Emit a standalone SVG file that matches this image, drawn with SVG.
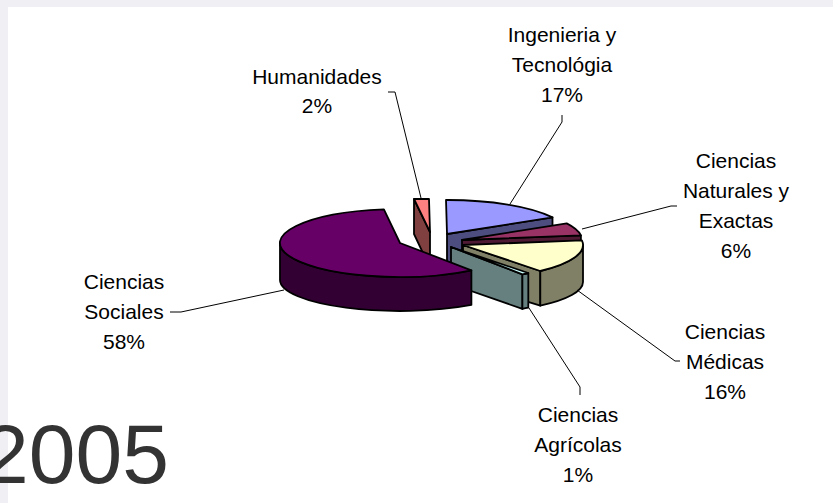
<svg xmlns="http://www.w3.org/2000/svg" width="833" height="503" viewBox="0 0 833 503">
<style>
.lbl{font-family:"Liberation Sans",Arial,sans-serif;font-size:21px;fill:#000;text-anchor:middle}
.f{stroke:#000;stroke-width:1.8;stroke-linejoin:round}
.ld{fill:none;stroke:#000;stroke-width:1}
</style>
<rect x="0" y="0" width="833" height="503" fill="#f0f0f4"/>
<rect x="8" y="7" width="825" height="496" fill="#ffffff"/>

<g id="ingenieria">
<path class="f" fill="#4d4d80" d="M447 234 L552.5 217.4 L552.5 255.8 L447 271 Z"/>
<path class="f" fill="#9999ff" d="M447 234 L446 200 A120 34 0 0 1 552.5 217.4 Z"/>
</g>
<g id="naturales">
<path class="f" fill="#4d1933" d="M462 240 L580.9 235.4 L580.9 272.9 L462 277 Z"/>
<path class="f" fill="#993366" d="M462 240 L566.7 223.4 A120 34 0 0 1 580.9 235.4 Z"/>
</g>
<g id="medicas">
<path class="f" fill="#808066" d="M463 245 L540.3 271 L540.3 305.7 L463 282 Z"/>
<path class="f" fill="#808066" d="M583 245 A120 34 0 0 1 540.3 271 L540.3 305.7 A120 31 0 0 0 583 282 Z"/>
<path class="f" fill="#ffffcc" d="M463 245 L581.9 240.4 A120 34 0 0 1 540.3 271 Z"/>
</g>
<g id="agricolas">
<path class="f" fill="#668080" d="M451 247 L522.4 274.3 L522.4 308.9 L451 284 Z"/>
<path class="f" fill="#668080" d="M528.3 273 A120 34 0 0 1 522.4 274.3 L522.4 308.9 A120 31 0 0 0 528.3 307.7 Z"/>
<path class="f" fill="#ccffff" d="M451 247 L528.3 273 A120 34 0 0 1 522.4 274.3 Z"/>
</g>
<g id="humanidades">
<path class="f" fill="#804040" d="M414 199 L430 232 L430 268 L414 234 Z"/>
<path class="f" fill="#ff8080" d="M430 232 L414 199 L429 199 Z"/>
</g>
<g id="sociales">
<path class="f" fill="#330033" d="M471.4 270.3 A120 34 0 0 1 280 243 L280 280 A120 31 0 0 0 471.4 304.9 Z"/>
<path class="f" fill="#660066" d="M400 243 L471.4 270.3 A120 34 0 1 1 383.9 209.3 Z"/>
</g>

<g id="connectors">
<path class="ld" d="M388 92 H395 L421 198"/>
<path class="ld" d="M562 115 V122 L510 204"/>
<path class="ld" d="M677 206 H671 L582 229"/>
<path class="ld" d="M680 361 H675 L577 290"/>
<path class="ld" d="M580 395 V387 L529 308"/>
<path class="ld" d="M170 312 H181 L284 290"/>
</g>

<g id="label-humanidades">
<text class="lbl" x="317" y="84">Humanidades</text>
<text class="lbl" x="317" y="113">2%</text>
</g>
<g id="label-ingenieria">
<text class="lbl" x="562" y="42">Ingenieria y</text>
<text class="lbl" x="562" y="72">Tecnológia</text>
<text class="lbl" x="562" y="102">17%</text>
</g>
<g id="label-naturales">
<text class="lbl" x="736" y="168">Ciencias</text>
<text class="lbl" x="736" y="198">Naturales y</text>
<text class="lbl" x="736" y="228">Exactas</text>
<text class="lbl" x="736" y="258">6%</text>
</g>
<g id="label-medicas">
<text class="lbl" x="725" y="339">Ciencias</text>
<text class="lbl" x="725" y="369">Médicas</text>
<text class="lbl" x="725" y="399">16%</text>
</g>
<g id="label-agricolas">
<text class="lbl" x="578" y="422">Ciencias</text>
<text class="lbl" x="578" y="452">Agrícolas</text>
<text class="lbl" x="578" y="482">1%</text>
</g>
<g id="label-sociales">
<text class="lbl" x="124" y="289">Ciencias</text>
<text class="lbl" x="124" y="319">Sociales</text>
<text class="lbl" x="124" y="349">58%</text>
</g>
<text x="-18" y="483" font-family="Liberation Sans, Arial, sans-serif" font-size="84" fill="#333333">2005</text>
</svg>
